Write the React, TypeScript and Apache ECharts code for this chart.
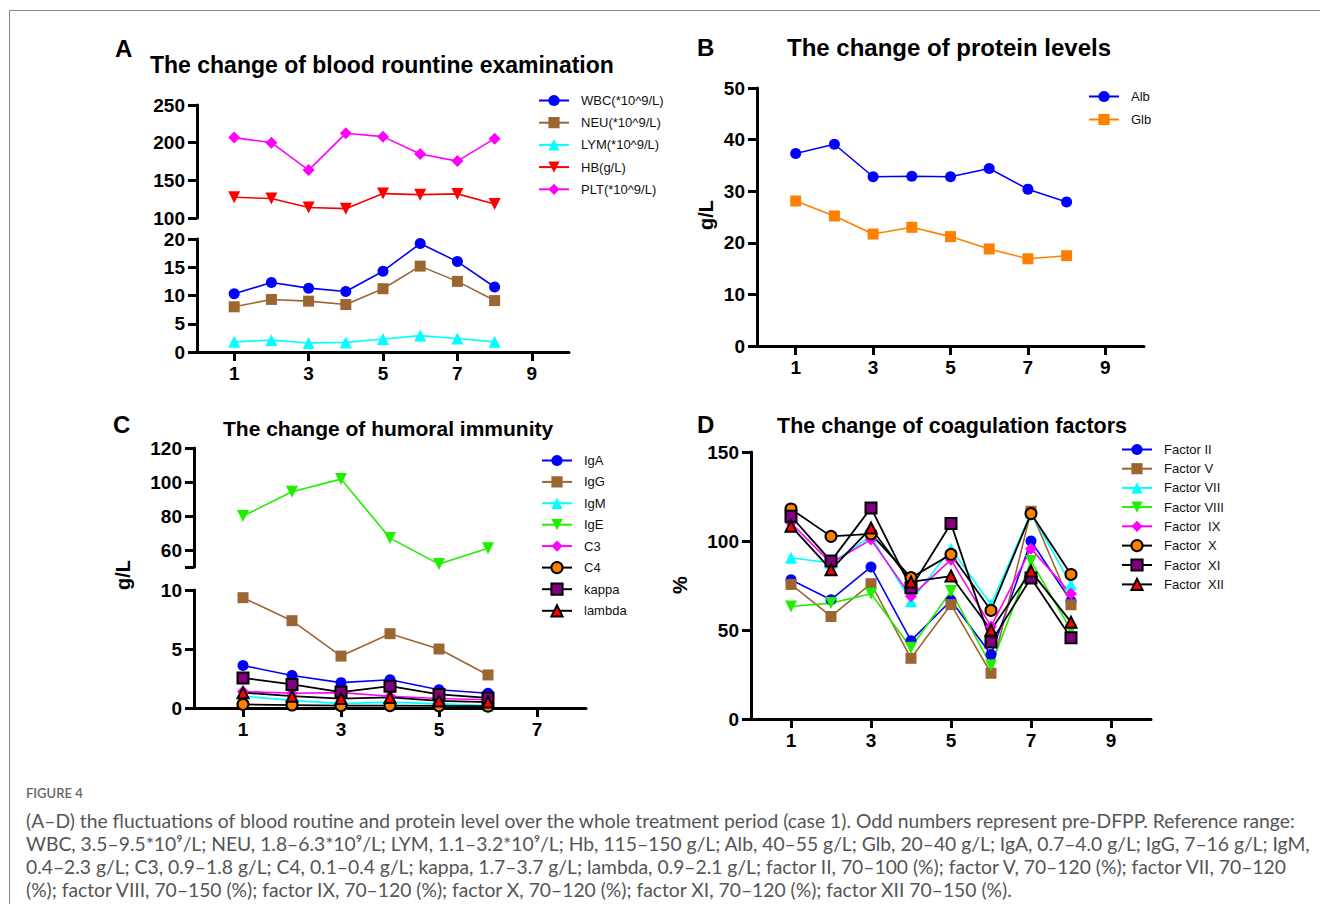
import React, { useEffect, useRef } from 'react';
import * as echarts from 'echarts';

// ---------- data ----------
const X8 = [1, 2, 3, 4, 5, 6, 7, 8];
const X6 = [1, 2, 3, 4, 5, 6];
const ODD_TICKS = [1, 3, 5, 7, 9];
const ODD_TICKS_C = [1, 3, 5, 7];

// Panel A – blood routine
const WBC = [10.3, 12.3, 11.3, 10.7, 14.3, 19.2, 16.0, 11.5];
const NEU = [8.0, 9.3, 9.0, 8.4, 11.2, 15.2, 12.5, 9.1];
const LYM = [1.8, 2.1, 1.6, 1.7, 2.3, 2.9, 2.4, 1.8];
const HB = [127.5, 125.8, 114, 112.4, 132.4, 131, 132, 118.7];
const PLT = [206.7, 200, 163.6, 212.4, 208, 185, 175.5, 205.3];
const A_UP_TICKS = [100, 150, 200, 250];

// Panel B – protein
const ALB = [37.3, 39.1, 32.8, 32.9, 32.8, 34.4, 30.4, 27.9];
const GLB = [28.1, 25.2, 21.7, 23.0, 21.2, 18.8, 16.9, 17.5];

// Panel C – humoral immunity
const IGA = [3.6, 2.75, 2.15, 2.4, 1.55, 1.25];
const IGG = [9.35, 7.4, 4.4, 6.3, 5.0, 2.8];
const IGM = [1.0, 0.65, 0.37, 0.5, 0.35, 0.2];
const IGE = [80, 94.3, 101.7, 67, 51.7, 61];
const C3 = [1.4, 1.25, 1.3, 1.0, 0.8, 0.7];
const C4 = [0.3, 0.25, 0.2, 0.2, 0.18, 0.15];
const KAPPA = [2.55, 2.0, 1.35, 1.85, 1.15, 0.85];
const LAMBDA = [1.3, 1.0, 0.8, 0.9, 0.6, 0.5];
const C_UP_TICKS = [50, 60, 80, 100, 120];
const C_UP_LABELS = [60, 80, 100, 120];

// Panel D – coagulation factors
const F2 = [78.2, 67, 85.4, 44, 66.6, 36.2, 100, 66.2];
const F5 = [75.6, 57.6, 76, 34.1, 64.3, 25.7, 116.7, 64.2];
const F7 = [90.6, 87.6, 102.6, 66.2, 95.7, 64.3, 115.8, 75.6];
const F8 = [63.2, 65.1, 70.4, 40, 71.9, 30, 88.7, 50];
const F9 = [110.1, 87.6, 100.8, 68.9, 89.5, 52, 95.7, 70.4];
const F10 = [118, 102.6, 104, 79.4, 92.5, 61, 115.4, 81.2];
const F11 = [113.9, 88.7, 118.6, 73.7, 109.8, 43.2, 79.2, 45.6];
const F12 = [108.3, 83.9, 107.3, 77, 80.3, 50, 83.1, 54.4];

const CAPTION_TITLE = 'FIGURE 4';
const CAPTION_LINES = [
  '(A–D) the fluctuations of blood routine and protein level over the whole treatment period (case 1). Odd numbers represent pre-DFPP. Reference range:',
  'WBC, 3.5–9.5*10⁹/L; NEU, 1.8–6.3*10⁹/L; LYM, 1.1–3.2*10⁹/L; Hb, 115–150 g/L; Alb, 40–55 g/L; Glb, 20–40 g/L; IgA, 0.7–4.0 g/L; IgG, 7–16 g/L; IgM,',
  '0.4–2.3 g/L; C3, 0.9–1.8 g/L; C4, 0.1–0.4 g/L; kappa, 1.7–3.7 g/L; lambda, 0.9–2.1 g/L; factor II, 70–100 (%); factor V, 70–120 (%); factor VII, 70–120',
  '(%); factor VIII, 70–150 (%); factor IX, 70–120 (%); factor X, 70–120 (%); factor XI, 70–120 (%); factor XII 70–150 (%).',
];

// ---------- styles ----------
const FONT = '"Liberation Sans", Arial, sans-serif';
const CAP_FONT = 'Lato, "Open Sans", sans-serif';
const BLUE = '#0000ff';
const BROWN = '#9c6633';
const CYAN = '#00ffff';
const RED = '#ff0000';
const MAGENTA = '#ff00ff';
const ORANGE = '#ff8000';
const GREEN = '#22ee00';
const PURPLE = '#800080';
const DOWN_TRI = 'path://M0,0L2,0L1,1.8Z';

function mk(name: string, xs: number[], ys: number[], idx: number, color: string, symbol: string, size: number, bordered = false) {
  return {
    name,
    type: 'line',
    xAxisIndex: idx,
    yAxisIndex: idx,
    data: xs.map((x, i) => [x, ys[i]]),
    symbol,
    symbolSize: size,
    showSymbol: true,
    lineStyle: { color: bordered ? '#000' : color, width: bordered ? 1.8 : 1.6 },
    itemStyle: bordered
      ? { color, borderColor: '#000', borderWidth: 2 }
      : { color, borderWidth: 0 },
    emphasis: { disabled: true },
  };
}

const axisBase = {
  axisLine: { show: true, onZero: false, lineStyle: { color: '#000', width: 3 } },
  axisTick: { show: true, length: 9, lineStyle: { color: '#000', width: 3 } },
  axisLabel: { color: '#000', fontSize: 19, fontWeight: 'bold', fontFamily: FONT },
  splitLine: { show: false },
};

function xAxisShown(idx: number, max: number, ticks: number[]) {
  return {
    type: 'value', gridIndex: idx, min: 0, max,
    ...axisBase,
    axisTick: { ...axisBase.axisTick, customValues: ticks },
    axisLabel: { ...axisBase.axisLabel, margin: 12, customValues: ticks },
  };
}
function xAxisHidden(idx: number, max: number) {
  return {
    type: 'value', gridIndex: idx, min: 0, max,
    axisLine: { show: false }, axisTick: { show: false }, axisLabel: { show: false }, splitLine: { show: false },
  };
}
function yAxis(idx: number, min: number, max: number, ticks: number[], labels?: number[]) {
  return {
    type: 'value', gridIndex: idx, min, max,
    ...axisBase,
    axisTick: { ...axisBase.axisTick, customValues: ticks },
    axisLabel: { ...axisBase.axisLabel, margin: 12, customValues: labels || ticks },
  };
}

function legend(names: string[], left: number, top: number, gap: number) {
  return {
    data: names,
    orient: 'vertical',
    left, top,
    padding: 0,
    itemWidth: 30, itemHeight: 14, itemGap: gap,
    selectedMode: false,
    textStyle: { fontSize: 13, fontFamily: FONT, color: '#111', padding: [0, 0, 0, 7] },
  };
}

function txt(text: string, x: number, y: number, size: number, extra: any = {}) {
  return {
    type: 'text', x, y, ...extra,
    style: {
      text, fontSize: size, fontWeight: 'bold', fontFamily: FONT, fill: '#000',
      align: extra.align || 'left', verticalAlign: 'middle',
    },
  };
}

function captionSize(): number {
  try {
    const ctx = document.createElement('canvas').getContext('2d')!;
    ctx.font = `100px ${CAP_FONT}`;
    let best = 100;
    for (let i = 0; i < 3; i++) {
      const w = ctx.measureText(CAPTION_LINES[i]).width;
      best = Math.min(best, (100 * 1285) / w);
    }
    return best;
  } catch (e) {
    return 16;
  }
}

function buildOption() {
  const capSize = captionSize();
  const capY = [820, 843, 866, 889];
  const NA = ['WBC(*10^9/L)', 'NEU(*10^9/L)', 'LYM(*10^9/L)', 'HB(g/L)', 'PLT(*10^9/L)'];
  const NB = ['Alb', 'Glb'];
  const NC = ['IgA', 'IgG', 'IgM', 'IgE', 'C3', 'C4', 'kappa', 'lambda'];
  const ND = ['Factor II', 'Factor V', 'Factor VII', 'Factor VIII', 'Factor  IX', 'Factor  X', 'Factor  XI', 'Factor  XII'];
  return {
    animation: false,
    backgroundColor: '#fff',
    grid: [
      { left: 197, top: 105, width: 372, height: 113 },
      { left: 197, top: 239, width: 372, height: 113 },
      { left: 757, top: 88, width: 387, height: 258 },
      { left: 194, top: 448, width: 392, height: 119 },
      { left: 194, top: 590, width: 392, height: 118 },
      { left: 751, top: 452, width: 400, height: 267 },
    ],
    xAxis: [
      xAxisHidden(0, 10),
      xAxisShown(1, 10, ODD_TICKS),
      xAxisShown(2, 10, ODD_TICKS),
      xAxisHidden(3, 8),
      xAxisShown(4, 8, ODD_TICKS_C),
      xAxisShown(5, 10, ODD_TICKS),
    ],
    yAxis: [
      yAxis(0, 100, 250, A_UP_TICKS),
      yAxis(1, 0, 20, [0, 5, 10, 15, 20]),
      yAxis(2, 0, 50, [0, 10, 20, 30, 40, 50]),
      yAxis(3, 50, 120, C_UP_TICKS, C_UP_LABELS),
      yAxis(4, 0, 10, [0, 5, 10]),
      yAxis(5, 0, 150, [0, 50, 100, 150]),
    ],
    legend: [
      legend(NA, 538, 94, 9.2),
      legend(NB, 1088, 90, 10),
      legend(NC, 541, 454, 8.4),
      legend(ND, 1121, 443, 6.2),
    ],
    series: [
      mk(NA[0], X8, WBC, 1, BLUE, 'circle', 11),
      mk(NA[1], X8, NEU, 1, BROWN, 'rect', 11),
      mk(NA[2], X8, LYM, 1, CYAN, 'triangle', 12),
      mk(NA[3], X8, HB, 0, RED, DOWN_TRI, 12),
      mk(NA[4], X8, PLT, 0, MAGENTA, 'diamond', 12),

      mk(NB[0], X8, ALB, 2, BLUE, 'circle', 11),
      mk(NB[1], X8, GLB, 2, ORANGE, 'rect', 11),

      mk(NC[0], X6, IGA, 4, BLUE, 'circle', 11),
      mk(NC[1], X6, IGG, 4, BROWN, 'rect', 11),
      mk(NC[2], X6, IGM, 4, CYAN, 'triangle', 12),
      mk(NC[3], X6, IGE, 3, GREEN, DOWN_TRI, 12),
      mk(NC[4], X6, C3, 4, MAGENTA, 'diamond', 12),
      mk(NC[5], X6, C4, 4, ORANGE, 'circle', 11, true),
      mk(NC[6], X6, KAPPA, 4, PURPLE, 'rect', 11, true),
      mk(NC[7], X6, LAMBDA, 4, RED, 'triangle', 11, true),

      mk(ND[0], X8, F2, 5, BLUE, 'circle', 11),
      mk(ND[1], X8, F5, 5, BROWN, 'rect', 11),
      mk(ND[2], X8, F7, 5, CYAN, 'triangle', 12),
      mk(ND[3], X8, F8, 5, GREEN, DOWN_TRI, 12),
      mk(ND[4], X8, F9, 5, MAGENTA, 'diamond', 12),
      mk(ND[5], X8, F10, 5, ORANGE, 'circle', 11, true),
      mk(ND[6], X8, F11, 5, PURPLE, 'rect', 11, true),
      mk(ND[7], X8, F12, 5, RED, 'triangle', 11, true),
    ],
    graphic: [
      { type: 'rect', shape: { x: 9.5, y: 10.5, width: 1400, height: 1000 }, style: { fill: 'none', stroke: '#888', lineWidth: 1 }, silent: true },
      txt('A', 115, 48, 24),
      txt('The change of blood rountine examination', 150, 65, 23),
      txt('B', 697, 47, 24),
      txt('The change of protein levels', 787, 47, 24),
      txt('C', 113, 424, 24),
      txt('The change of humoral immunity', 223, 428, 21),
      txt('D', 697, 424, 24),
      txt('The change of coagulation factors', 777, 426, 21.5),
      txt('g/L', 706, 215, 20, { rotation: Math.PI / 2, align: 'center' }),
      txt('g/L', 123, 575, 20, { rotation: Math.PI / 2, align: 'center' }),
      txt('%', 680, 585, 20, { rotation: Math.PI / 2, align: 'center' }),
      {
        type: 'text', x: 26, y: 793,
        style: { text: CAPTION_TITLE, fontSize: 13, fontWeight: 600, fontFamily: CAP_FONT, fill: '#666', verticalAlign: 'middle' },
      },
      ...CAPTION_LINES.map((t, i) => ({
        type: 'text', x: 26, y: capY[i],
        style: { text: t, fontSize: capSize, fontFamily: CAP_FONT, fill: '#555', verticalAlign: 'middle' },
      })),
    ],
  };
}

export default function App() {
  const ref = useRef<HTMLDivElement>(null);
  useEffect(() => {
    const chart = echarts.init(ref.current!, null, { renderer: 'svg' });
    chart.setOption(buildOption() as any);
    return () => chart.dispose();
  }, []);
  return (
    <div
      ref={ref}
      style={{ position: 'absolute', left: 0, top: 0, width: 1320, height: 904, background: '#fff' }}
    />
  );
}
